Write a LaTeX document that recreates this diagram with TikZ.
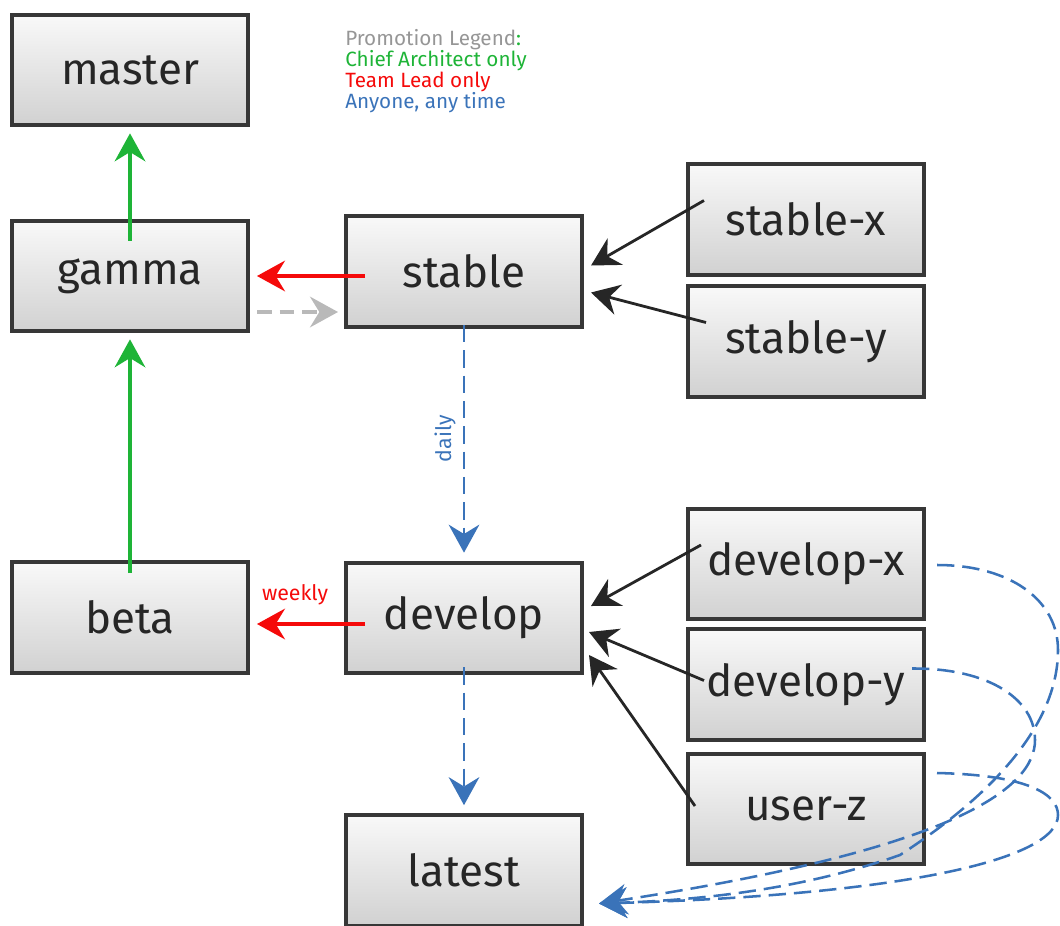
\documentclass[tikz,border=0pt]{standalone}
\usepackage{fontspec}
\setmainfont{Fira Sans}
\usetikzlibrary{arrows.meta,calc}
\definecolor{pgreen}{RGB}{30,180,55}
\definecolor{pred}{RGB}{245,10,10}
\definecolor{pblue}{RGB}{58,115,185}
\definecolor{pgray}{RGB}{185,185,185}
\definecolor{lgray}{RGB}{150,150,150}
\definecolor{boxline}{RGB}{55,55,55}
\begin{document}
\begin{tikzpicture}[x=0.75pt,y=-0.75pt,
  box/.style={draw=boxline, line width=3pt, top color=white!95!gray, bottom color=black!18,
    minimum width=177pt, minimum height=83pt, inner sep=0pt,
    font=\fontsize{33}{36}\selectfont, text=black!85},
  tip/.style={-{Stealth[length=21pt,width=23pt,inset=7pt]}},
  garrow/.style={tip, pgreen, line width=2.4pt},
  rarrow/.style={tip, pred, line width=2.4pt},
  karrow/.style={tip, black!85, line width=2.1pt},
  barrow/.style={tip, pblue, line width=1.9pt, dash pattern=on 13pt off 6pt},
  grarrow/.style={tip, pgray, line width=2.4pt, dash pattern=on 11pt off 6pt},
  lbl/.style={font=\fontsize{16}{18}\selectfont}]
\useasboundingbox (0,0) rectangle (1060,925);
\node[box] (master) at (130,70) {master};
\node[box] (gamma) at (130,276) {gamma};
\node[box] (beta) at (130,617.5) {beta};
\node[box] (stable) at (464,271.5) {stable};
\node[box] (develop) at (464,618) {develop};
\node[box] (latest) at (464,870.5) {latest};
\node[box] (stablex) at (806,219.5) {stable-x};
\node[box] (stabley) at (806,341.5) {stable-y};
\node[box] (developx) at (806,564) {develop-x};
\node[box] (developy) at (806,684.5) {develop-y};
\node[box] (userz) at (806,809) {user-z};

\node[anchor=north west, align=left, font=\fontsize{15.5}{15.75}\selectfont, inner sep=0pt] (legend) at (345,29)
  {{\color{lgray}Promotion Legend}{\color{pgreen}:}\\
   {\color{pgreen}Chief Architect only}\\
   {\color{pred}Team Lead only}\\
   {\color{pblue}Anyone, any time}};

\draw[garrow] ($(gamma.north)+(0,22)$) -- ($(master.south)+(0,6)$);
\draw[garrow] ($(beta.north)+(0,13)$) -- ($(gamma.south)+(0,6)$);
\draw[rarrow] ($(stable.west |- gamma.east)+(21,0)$) -- ($(gamma.east)+(7,0)$);
\draw[grarrow] ($(gamma.east)+(7,36)$) -- ($(stable.west |- gamma.east)+(-6,36)$);
\draw[rarrow] ($(develop.west)+(21,6)$) -- node[above=10pt, xshift=-12pt, pred, lbl] (weekly) {weekly} ($(beta.east)+(7,6.5)$);
\draw[barrow] ($(stable.south)+(0,-4)$) -- node[above, pblue, lbl, rotate=90, yshift=2pt] (daily) {daily} ($(develop.north)+(0,-8)$);
\draw[barrow] ($(develop.south)+(0,-8)$) -- ($(latest.north)+(0,-8)$);

\draw[karrow] ($(stablex.west)+(18,-19)$) -- ($(stable.east)+(7,-6)$);
\draw[karrow] ($(stabley.west)+(20,-19)$) -- ($(stable.east)+(7,21)$);
\draw[karrow] ($(developx.west)+(15,-19)$) -- ($(develop.east)+(7,-12)$);
\draw[karrow] ($(developy.west)+(18,-4)$) -- ($(develop.east)+(5,14)$);
\draw[karrow] ($(userz.west)+(9,-3)$) -- ($(develop.east)+(5,37)$);

\coordinate (lend) at ($(latest.east)+(15,33)$);
\draw[barrow] ($(developx.east)+(11,1)$) .. controls (1010,565) and (1058,600) .. (1058,650)
   .. controls (1058,720) and (1000,790) .. (900,855) .. controls (800,890) and (700,900) .. (lend);
\draw[barrow] ($(developy.east)+(-14,-16)$) .. controls (990,668) and (1035,700) .. (1035,740)
   .. controls (1035,790) and (950,850) .. (lend);
\draw[barrow] ($(userz.east)+(11,-36)$) .. controls (1030,775) and (1058,795) .. (1058,815)
   .. controls (1058,860) and (900,895) .. (lend);
\end{tikzpicture}
\end{document}
